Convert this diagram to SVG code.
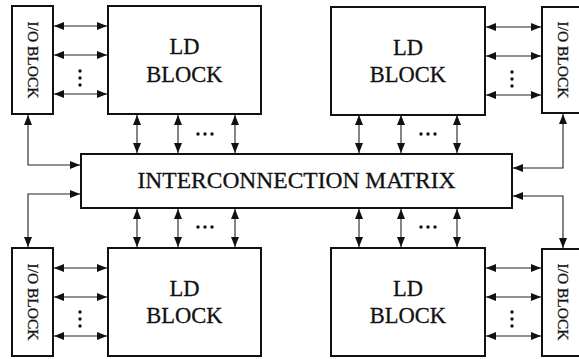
<svg xmlns="http://www.w3.org/2000/svg" width="579" height="359" viewBox="0 0 579 359">
  <style>
    .box { fill: #fff; stroke: #111; stroke-width: 2; }
    .wire { fill: none; stroke: #222; stroke-width: 1.1; marker-start: url(#head); marker-end: url(#head); }
    .t { font-family: "Liberation Serif", "Times New Roman", serif; fill: #111; stroke: #111; stroke-width: 0.3; text-anchor: middle; }
    .ld { font-size: 22.5px; }
    .io { font-size: 15.5px; }
    .mx { font-size: 23.5px; }
    .dot { fill: #111; }
  </style>
  <defs>
    <marker id="head" viewBox="0 0 10 8" refX="10" refY="4" markerWidth="10" markerHeight="8" markerUnits="userSpaceOnUse" orient="auto-start-reverse">
      <path d="M0,0 L10,4 L0,8 z" fill="#111"/>
    </marker>
  </defs>

  <!-- connectors -->
  <g id="connectors">
    <!-- top-left I/O to LD -->
    <line class="wire" x1="54" y1="26" x2="107" y2="26"/>
    <line class="wire" x1="54" y1="55" x2="107" y2="55"/>
    <line class="wire" x1="54" y1="94" x2="107" y2="94"/>
    <!-- top-right LD to I/O -->
    <line class="wire" x1="486" y1="27" x2="541" y2="27"/>
    <line class="wire" x1="486" y1="56" x2="541" y2="56"/>
    <line class="wire" x1="486" y1="95" x2="541" y2="95"/>
    <!-- bottom-left I/O to LD -->
    <line class="wire" x1="54" y1="268" x2="107" y2="268"/>
    <line class="wire" x1="54" y1="297" x2="107" y2="297"/>
    <line class="wire" x1="54" y1="336" x2="107" y2="336"/>
    <!-- bottom-right LD to I/O -->
    <line class="wire" x1="486" y1="268" x2="541" y2="268"/>
    <line class="wire" x1="486" y1="297" x2="541" y2="297"/>
    <line class="wire" x1="486" y1="336" x2="541" y2="336"/>
    <!-- top LD blocks to matrix -->
    <line class="wire" x1="137" y1="115" x2="137" y2="153"/>
    <line class="wire" x1="178" y1="115" x2="178" y2="153"/>
    <line class="wire" x1="235" y1="115" x2="235" y2="153"/>
    <line class="wire" x1="359" y1="115" x2="359" y2="153"/>
    <line class="wire" x1="401" y1="115" x2="401" y2="153"/>
    <line class="wire" x1="457" y1="115" x2="457" y2="153"/>
    <!-- matrix to bottom LD blocks -->
    <line class="wire" x1="137" y1="209" x2="137" y2="247"/>
    <line class="wire" x1="178" y1="209" x2="178" y2="247"/>
    <line class="wire" x1="235" y1="209" x2="235" y2="247"/>
    <line class="wire" x1="359" y1="209" x2="359" y2="247"/>
    <line class="wire" x1="401" y1="209" x2="401" y2="247"/>
    <line class="wire" x1="457" y1="209" x2="457" y2="247"/>
    <!-- I/O blocks to matrix -->
    <path class="wire" d="M28,115 V165 H80"/>
    <path class="wire" d="M563,114 V168 H513"/>
    <path class="wire" d="M80,194 H28 V247"/>
    <path class="wire" d="M513,196 H563 V248"/>
    <!-- ellipses -->
    <g class="dot">
      <circle cx="80" cy="71" r="1.7"/><circle cx="80" cy="78" r="1.7"/><circle cx="80" cy="85" r="1.7"/>
      <circle cx="512" cy="72" r="1.7"/><circle cx="512" cy="79" r="1.7"/><circle cx="512" cy="86" r="1.7"/>
      <circle cx="80" cy="312" r="1.7"/><circle cx="80" cy="319" r="1.7"/><circle cx="80" cy="326" r="1.7"/>
      <circle cx="512" cy="312" r="1.7"/><circle cx="512" cy="319" r="1.7"/><circle cx="512" cy="326" r="1.7"/>
      <circle cx="198" cy="134" r="1.7"/><circle cx="205" cy="134" r="1.7"/><circle cx="212" cy="134" r="1.7"/>
      <circle cx="421" cy="134" r="1.7"/><circle cx="428" cy="134" r="1.7"/><circle cx="435" cy="134" r="1.7"/>
      <circle cx="198" cy="227" r="1.7"/><circle cx="205" cy="227" r="1.7"/><circle cx="212" cy="227" r="1.7"/>
      <circle cx="421" cy="227" r="1.7"/><circle cx="428" cy="227" r="1.7"/><circle cx="435" cy="227" r="1.7"/>
    </g>
  </g>

  <!-- top-left -->
  <g id="io-top-left">
    <rect class="box" x="12" y="6" width="41" height="108"/>
    <text class="t io" transform="translate(32.5,60) rotate(90)" dy="5">I/O BLOCK</text>
  </g>
  <g id="ld-top-left">
    <rect class="box" x="108" y="6" width="153" height="108"/>
    <text class="t ld" x="184.5" y="54">LD</text>
    <text class="t ld" x="184.5" y="82">BLOCK</text>
  </g>

  <!-- top-right -->
  <g id="ld-top-right">
    <rect class="box" x="331" y="7" width="154" height="108"/>
    <text class="t ld" x="408" y="55">LD</text>
    <text class="t ld" x="408" y="82">BLOCK</text>
  </g>
  <g id="io-top-right">
    <rect class="box" x="542" y="7" width="42" height="106"/>
    <text class="t io" transform="translate(563,60) rotate(90)" dy="5">I/O BLOCK</text>
  </g>

  <!-- matrix -->
  <g id="matrix">
    <rect class="box" x="81" y="154" width="431" height="54"/>
    <text class="t mx" x="296.5" y="188">INTERCONNECTION MATRIX</text>
  </g>

  <!-- bottom-left -->
  <g id="io-bottom-left">
    <rect class="box" x="12" y="248" width="41" height="108"/>
    <text class="t io" transform="translate(32.5,302) rotate(90)" dy="5">I/O BLOCK</text>
  </g>
  <g id="ld-bottom-left">
    <rect class="box" x="108" y="248" width="153" height="108"/>
    <text class="t ld" x="184.5" y="296">LD</text>
    <text class="t ld" x="184.5" y="323">BLOCK</text>
  </g>

  <!-- bottom-right -->
  <g id="ld-bottom-right">
    <rect class="box" x="331" y="248" width="154" height="108"/>
    <text class="t ld" x="408" y="296">LD</text>
    <text class="t ld" x="408" y="323">BLOCK</text>
  </g>
  <g id="io-bottom-right">
    <rect class="box" x="542" y="249" width="42" height="107"/>
    <text class="t io" transform="translate(563,302) rotate(90)" dy="5">I/O BLOCK</text>
  </g>
</svg>
